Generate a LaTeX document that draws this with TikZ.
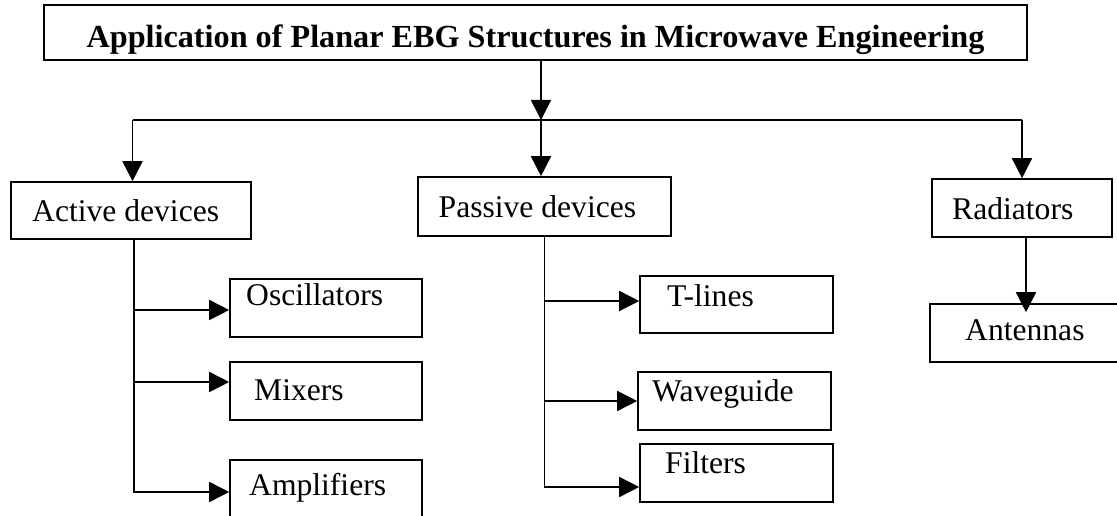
\documentclass[tikz,border=0pt]{standalone}
\usepackage{fontspec}
\setmainfont{Liberation Serif}
\usetikzlibrary{arrows.meta}

\begin{document}
\begin{tikzpicture}[x=1pt, y=-1pt,
                    box_style/.style={rectangle, draw=black, line width=1.6pt, inner sep=0pt},
                    text_style/.style={anchor=base west, inner sep=0pt, font=\fontsize{31.6}{36}\selectfont},
                    edge_style/.style={draw=black, line width=1.6pt},
                    arrow_style/.style={edge_style, -{Triangle[length=20pt, width=20pt]}}]
                    \useasboundingbox (0, 0) rectangle (1117, 516);
                    % boxes
                    \node[box_style, minimum width=983pt, minimum height=55pt] (title) at (535.5, 32.5) {};
                    \node[box_style, minimum width=240pt, minimum height=57pt] (active) at (131, 210.5) {};
                    \node[box_style, minimum width=253pt, minimum height=59pt] (passive) at (544.5, 206.5) {};
                    \node[box_style, minimum width=180pt, minimum height=58pt] (radiators) at (1022, 208) {};
                    \node[box_style, minimum width=192pt, minimum height=58pt] (osc) at (326, 308) {};
                    \node[box_style, minimum width=192pt, minimum height=58pt] (mixers) at (326, 391) {};
                    \node[box_style, minimum width=192pt, minimum height=58pt] (amp) at (326, 489) {};
                    \node[box_style, minimum width=193pt, minimum height=57pt] (tlines) at (736.5, 304.5) {};
                    \node[box_style, minimum width=193pt, minimum height=58pt] (waveguide) at (734.5, 401) {};
                    \node[box_style, minimum width=193pt, minimum height=58pt] (filters) at (736.5, 473) {};
                    \node[box_style, minimum width=195pt, minimum height=58pt] (antennas) at (1027.5, 333) {};
                    % texts
                    \node[text_style, anchor=base, font=\fontsize{32.2}{36}\selectfont\bfseries] (t_title) at (535.5, 47.5) {Application of Planar EBG Structures in Microwave Engineering};
                    \node[text_style] (t_active) at (32, 221.5) {Active devices};
                    \node[text_style] (t_passive) at (438.5, 217.5) {Passive devices};
                    \node[text_style] (t_radiators) at (952, 219) {Radiators};
                    \node[text_style] (t_osc) at (246, 305) {Oscillators};
                    \node[text_style] (t_mixers) at (254, 400) {Mixers};
                    \node[text_style] (t_amp) at (249, 495) {Amplifiers};
                    \node[text_style] (t_tlines) at (667, 306) {T-lines};
                    \node[text_style] (t_waveguide) at (652, 401.5) {Waveguide};
                    \node[text_style] (t_filters) at (665, 473) {Filters};
                    \node[text_style] (t_antennas) at (965, 340) {Antennas};
                    % connectors
                    \coordinate (split) at (541, 120);
                    \draw[arrow_style] (title.south -| split) -- (split);
                    \draw[edge_style] ([xshift=1.5pt]split -| active) -- (split -| radiators);
                    \draw[arrow_style] ([xshift=1.5pt]split -| active) -- ([xshift=1.5pt]active.north);
                    \draw[arrow_style] (split) -- (split |- passive.north);
                    \draw[arrow_style] (split -| radiators) -- (radiators.north);
                    \draw[arrow_style] ([xshift=3pt]active.south) |- ([yshift=-2pt]osc.west);
                    \draw[arrow_style] ([xshift=3pt]active.south) |- ([yshift=9pt]mixers.west);
                    \draw[arrow_style] ([xshift=3pt]active.south) |- ([yshift=-3pt]amp.west);
                    \draw[arrow_style] (passive.south) |- ([yshift=3.5pt]tlines.west);
                    \draw[arrow_style] (passive.south) |- (waveguide.west);
                    \draw[arrow_style] (passive.south) |- ([yshift=-14pt]filters.west);
                    \draw[arrow_style, shorten >=-9pt] ([xshift=4pt]radiators.south) -- ([xshift=4pt]radiators.south |- antennas.north);
                \end{tikzpicture}
\end{document}
